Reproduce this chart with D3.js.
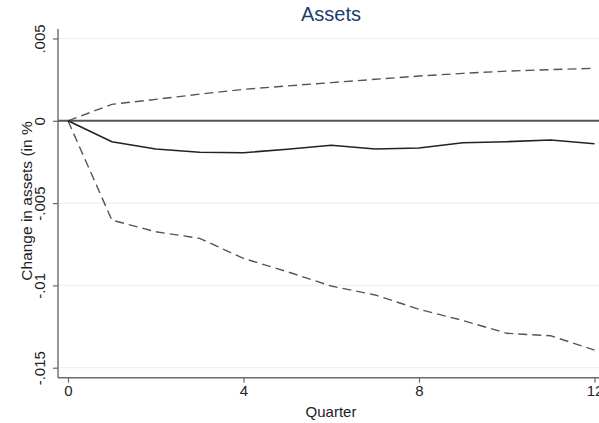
<!DOCTYPE html>
<html><head><meta charset="utf-8">
<script src="https://cdn.jsdelivr.net/npm/d3@7"></script>
<style>body{margin:0;background:#fff}svg{display:block}text{font-family:"Liberation Sans",Arial,sans-serif}</style>
</head><body><svg id="c" width="599" height="423"></svg>
<script>
const quarters = [0,1,2,3,4,5,6,7,8,9,10,11,12];
const estimate = [0,-0.00127,-0.00171,-0.00191,-0.00194,-0.00173,-0.00149,-0.00171,-0.00165,-0.00133,-0.00127,-0.00117,-0.00139];
const upper = [0,0.0010,0.0013,0.00162,0.00191,0.00212,0.00232,0.00252,0.00272,0.00288,0.00302,0.00311,0.00319];
const lower = [0,-0.00603,-0.00674,-0.00714,-0.00836,-0.00917,-0.01004,-0.01058,-0.01145,-0.01213,-0.01291,-0.01306,-0.01393];
const yTicks = [0.005,0,-0.005,-0.01,-0.015];
const yTickLabels = [".005","0","-.005","-.01","-.015"];
const xTicks = [0,4,8,12];
const title = "Assets", xTitle = "Quarter", yTitle = "Change in assets (in %";

(function(){
const svg = d3.select("#c");
const x = d3.scaleLinear().domain([0,12]).range([68,594.5]);
const y = d3.scaleLinear().domain([0,-0.015]).range([120.8,367.7]);
const pL = 58, pB = 377.7, pT = 29, pR = 599;

svg.append("g").selectAll("line").data(yTicks.filter(d=>d!==0)).join("line")
  .attr("x1",pL).attr("x2",pR).attr("y1",d=>y(d)).attr("y2",d=>y(d))
  .attr("stroke","#eaf2f3").attr("stroke-width",1.2);

const ya = svg.append("g").attr("transform",`translate(${pL},0)`)
  .call(d3.axisLeft(y).tickValues(yTicks).tickSize(5).tickFormat((d,i)=>yTickLabels[i]));
ya.select(".domain").remove();
ya.selectAll(".tick line").attr("stroke","#666").attr("stroke-width",1.2);
ya.selectAll(".tick text").attr("transform","rotate(-90)").attr("x",0).attr("y",-13)
  .attr("dy",0).attr("text-anchor","middle").attr("font-size",15).attr("fill","#222")
  .style("font-family","Liberation Sans, Arial, sans-serif");
svg.append("line").attr("x1",pL).attr("x2",pL).attr("y1",pT).attr("y2",pB)
  .attr("stroke","#6a6a6a").attr("stroke-width",1.4);

const xa = svg.append("g").attr("transform",`translate(0,${pB})`)
  .call(d3.axisBottom(x).tickValues(xTicks).tickSize(5).tickFormat(d3.format("d")));
xa.select(".domain").remove();
xa.selectAll(".tick line").attr("stroke","#666").attr("stroke-width",1.2);
xa.selectAll(".tick text").attr("y",8).attr("dy","0.71em").attr("font-size",15).attr("fill","#222")
  .style("font-family","Liberation Sans, Arial, sans-serif");
svg.append("line").attr("x1",pL).attr("x2",pR).attr("y1",pB).attr("y2",pB)
  .attr("stroke","#6a6a6a").attr("stroke-width",1.4);

svg.append("line").attr("x1",pL).attr("x2",pR).attr("y1",y(0)).attr("y2",y(0))
  .attr("stroke","#555").attr("stroke-width",2);

const line = d3.line().x((d,i)=>x(quarters[i])).y(d=>y(d));
svg.append("path").datum(upper).attr("d",line).attr("fill","none")
  .attr("stroke","#555").attr("stroke-width",1.4).attr("stroke-dasharray","9,5");
svg.append("path").datum(lower).attr("d",line).attr("fill","none")
  .attr("stroke","#555").attr("stroke-width",1.4).attr("stroke-dasharray","9,5");
svg.append("path").datum(estimate).attr("d",line).attr("fill","none")
  .attr("stroke","#222").attr("stroke-width",1.6);

svg.append("text").attr("x",331).attr("y",21).attr("text-anchor","middle")
  .attr("font-size",20).attr("fill","#1a3f6b").text(title);
svg.append("text").attr("x",331).attr("y",417).attr("text-anchor","middle")
  .attr("font-size",15).attr("fill","#222").text(xTitle);
svg.append("text").attr("transform","translate(32,201) rotate(-90)").attr("text-anchor","middle")
  .attr("font-size",15.5).attr("fill","#222").text(yTitle);
})();
</script></body></html>
